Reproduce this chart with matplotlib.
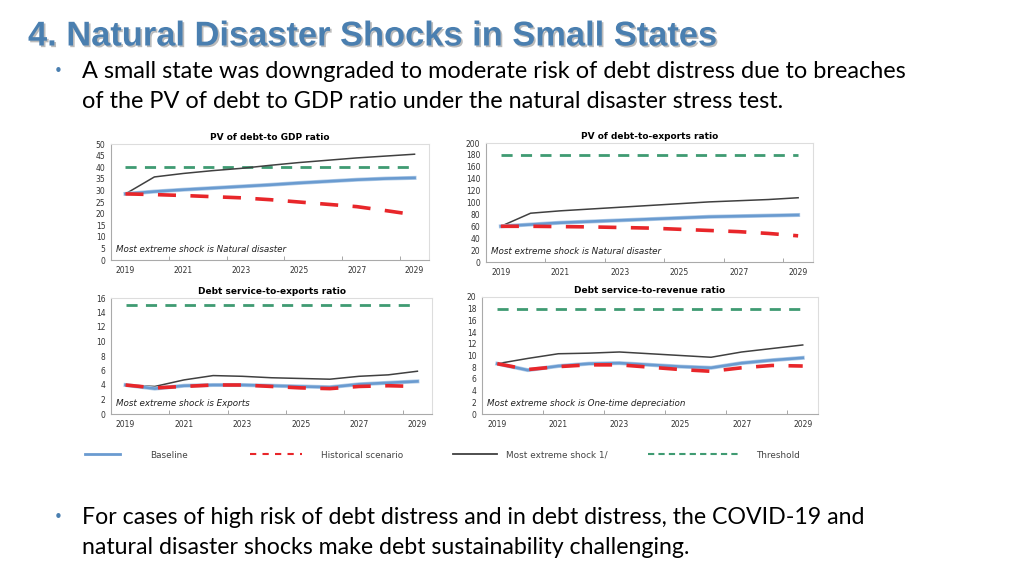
import numpy as np
import matplotlib.pyplot as plt
import matplotlib.patheffects as pe
from matplotlib.lines import Line2D

years = list(range(2019, 2030))
year_labels = ['2019', '2021', '2023', '2025', '2027', '2029']

# PV of debt-to GDP ratio
gdp_baseline = [28.5, 29.5, 30.3, 31.0, 31.7, 32.4, 33.2, 33.9, 34.6, 35.1, 35.4]
gdp_hist = [28.5, 28.2, 27.8, 27.3, 26.8, 26.0, 25.0, 24.0, 23.0, 21.3, 19.5]
gdp_shock = [28.5, 35.8, 37.3, 38.5, 39.5, 40.8, 42.0, 43.0, 44.0, 44.8, 45.6]
gdp_threshold = 40

# PV of debt-to-exports ratio
exp_baseline = [60, 63, 66, 68, 70, 72, 74, 76, 77, 78, 79]
exp_hist = [60, 60, 59.5, 59, 58, 57, 55, 53, 51, 48, 44]
exp_shock = [60, 82, 86, 89, 92, 95, 98, 101, 103, 105, 108]
exp_threshold = 180

# Debt service-to-exports ratio
dse_baseline = [4.0, 3.5, 3.9, 4.0, 4.0, 3.9, 3.8, 3.7, 4.1, 4.3, 4.5]
dse_hist = [4.0, 3.6, 3.8, 4.0, 4.0, 3.8, 3.6, 3.5, 3.8, 3.9, 3.8]
dse_shock = [4.0, 3.8, 4.7, 5.3, 5.2, 5.0, 4.9, 4.8, 5.2, 5.4, 5.9]
dse_threshold = 15

# Debt service-to-revenue ratio
dsr_baseline = [8.6, 7.5, 8.2, 8.6, 8.7, 8.4, 8.1, 7.9, 8.7, 9.2, 9.6]
dsr_hist = [8.6, 7.6, 8.1, 8.4, 8.4, 8.0, 7.6, 7.3, 7.9, 8.3, 8.2]
dsr_shock = [8.6, 9.5, 10.3, 10.4, 10.6, 10.3, 10.0, 9.7, 10.6, 11.2, 11.8]
dsr_threshold = 18

panels = [
    ('PV of debt-to GDP ratio', gdp_baseline, gdp_hist, gdp_shock, gdp_threshold,
     50, 5, 'Most extreme shock is Natural disaster', [111, 144, 429, 260]),
    ('PV of debt-to-exports ratio', exp_baseline, exp_hist, exp_shock, exp_threshold,
     200, 20, 'Most extreme shock is Natural disaster', [486, 143, 813, 262]),
    ('Debt service-to-exports ratio', dse_baseline, dse_hist, dse_shock, dse_threshold,
     16, 2, 'Most extreme shock is Exports', [111, 298, 432, 414]),
    ('Debt service-to-revenue ratio', dsr_baseline, dsr_hist, dsr_shock, dsr_threshold,
     20, 2, 'Most extreme shock is One-time depreciation', [482, 297, 818, 414]),
]

W, H = 1024, 576
fig = plt.figure(figsize=(W / 100, H / 100), dpi=100)
fig.patch.set_facecolor('white')

blue = '#6a9bd0'
red = '#e8262a'
green = '#3f9b72'
dark = '#404040'

for title, base, hist, shock, thr, ymax, ystep, note, box in panels:
    x0, y0, x1, y1 = box
    ax = fig.add_axes([x0 / W, 1 - y1 / H, (x1 - x0) / W, (y1 - y0) / H])
    ax.plot(years, [thr] * len(years), color=green, lw=2, ls=(0, (4, 3)))
    ax.plot(years, shock, color=dark, lw=1.1)
    ax.plot(years, base, color=blue, lw=1.9,
            path_effects=[pe.Stroke(linewidth=2.9, foreground='#b3cde8'), pe.Normal()])
    ax.plot(years, hist, color=red, lw=2.6, ls=(0, (5, 4)))
    ax.set_xlim(2018.5, 2029.5)
    ax.set_ylim(0, ymax)
    ax.set_yticks(np.arange(0, ymax + ystep / 2, ystep))
    ax.set_xticks(range(2019, 2030, 2))
    ax.set_xticklabels(year_labels)
    ax.set_xticks(np.arange(2020.5, 2029, 2), minor=True)
    ax.tick_params(axis='both', which='major', labelsize=5.5, colors='#333333', length=0, pad=4)
    ax.tick_params(axis='x', which='minor', length=3, direction='in', color='#999999')
    for s in ax.spines.values():
        s.set_color('#dddddd')
        s.set_linewidth(0.8)
    ax.spines['left'].set_color('#aaaaaa')
    ax.spines['bottom'].set_color('#aaaaaa')
    ax.set_title(title, fontsize=6.5, fontweight='bold', pad=3)
    ax.text(0.015, 0.07, note, transform=ax.transAxes, fontsize=6.3, style='italic',
            color='#222222')

# legend row, one entry at a time so each sits where the original puts it
legend_items = [
    (Line2D([], [], color=blue, lw=2), 'Baseline', 85, 3.9, 3.4),
    (Line2D([], [], color=red, lw=1.5, ls=(0, (3, 3))), 'Historical scenario', 250, 5.8, 2.2),
    (Line2D([], [], color=dark, lw=1.3), 'Most extreme shock 1/', 453, 5.0, 1.0),
    (Line2D([], [], color=green, lw=1.5, ls=(0, (3, 2))), 'Threshold', 648, 10.3, 1.9),
]
for handle, label, xpix, hl, pad in legend_items:
    leg = fig.legend([handle], [label], loc='center left',
                     bbox_to_anchor=(xpix / W, 1 - 455 / H), frameon=False,
                     fontsize=6.4, handlelength=hl, handletextpad=pad,
                     borderpad=0, borderaxespad=0)
    for t in leg.get_texts():
        t.set_color('#444444')

# slide text
fig.text(28 / W, 1 - 37 / H, '4. Natural Disaster Shocks in Small States',
         fontsize=24.8, fontweight='bold', color='#4a7fb0', family='Liberation Sans',
         va='center',
         path_effects=[pe.withSimplePatchShadow(offset=(1.2, -1.2), shadow_rgbFace='#aaaaaa', alpha=0.8)])
body_font = ['Lato', 'DejaVu Sans']
fig.text(54 / W, 1 - 72 / H, '\u2022', fontsize=11, color='#4a7fb0', va='center')
fig.text(82 / W, 1 - 72 / H,
         'A small state was downgraded to moderate risk of debt distress due to breaches',
         fontsize=16.9, family=body_font, va='center')
fig.text(82 / W, 1 - 102 / H,
         'of the PV of debt to GDP ratio under the natural disaster stress test.',
         fontsize=16.9, family=body_font, va='center')
fig.text(54 / W, 1 - 517 / H, '\u2022', fontsize=11, color='#4a7fb0', va='center')
fig.text(82 / W, 1 - 517 / H,
         'For cases of high risk of debt distress and in debt distress, the COVID-19 and',
         fontsize=16.7, family=body_font, va='center')
fig.text(82 / W, 1 - 547 / H,
         'natural disaster shocks make debt sustainability challenging.',
         fontsize=16.7, family=body_font, va='center')

fig.savefig('out.png', dpi=100, facecolor='white')
